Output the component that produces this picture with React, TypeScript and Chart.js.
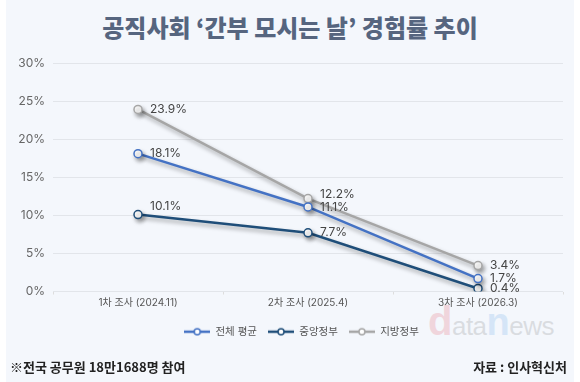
import React, { useEffect, useRef } from "react";
import { Chart, registerables } from "chart.js";

Chart.register(...registerables);

const categories = ["1차 조사 (2024.11)", "2차 조사 (2025.4)", "3차 조사 (2026.3)"];
const seriesNames = ["전체 평균", "중앙정부", "지방정부"];
const totalAvg = [18.1, 11.1, 1.7];
const central = [10.1, 7.7, 0.4];
const local = [23.9, 12.2, 3.4];
const yTicks = [0, 5, 10, 15, 20, 25, 30];

const colors = ["#4472c4", "#1f4e79", "#a6a6a6"];
// vertical nudges for value labels (px), per series per category
const labelNudge = [
  [0, 0, 0],
  [-8, 0, 0],
  [0, -4, 0],
];

const FONT = "Inter, 'Noto Sans CJK KR', sans-serif";

function legendIcon(color: string) {
  const c = document.createElement("canvas");
  c.width = 26;
  c.height = 10;
  const ctx = c.getContext("2d")!;
  ctx.strokeStyle = color;
  ctx.lineWidth = 2.5;
  ctx.beginPath();
  ctx.moveTo(0, 5);
  ctx.lineTo(26, 5);
  ctx.stroke();
  ctx.beginPath();
  ctx.arc(13, 5, 3, 0, Math.PI * 2);
  ctx.fillStyle = "#ffffff";
  ctx.fill();
  ctx.lineWidth = 1.5;
  ctx.stroke();
  return c;
}

export default function App() {
  const ref = useRef<HTMLCanvasElement>(null);

  useEffect(() => {
    const icons = colors.map(legendIcon);
    const shadowPlugin = {
      id: "lineShadow",
      beforeDatasetsDraw(chart: any) {
        const ctx = chart.ctx;
        ctx.save();
        ctx.shadowColor = "rgba(0,0,0,0.35)";
        ctx.shadowBlur = 4;
        ctx.shadowOffsetX = 2;
        ctx.shadowOffsetY = 3;
      },
      afterDatasetsDraw(chart: any) {
        chart.ctx.restore();
      },
    };
    const legendShift = {
      id: "legendShift",
      afterLayout(chart: any) {
        if (chart.legend) {
          chart.legend.left += 20;
          chart.legend.right += 20;
        }
      },
    };
    const labelPlugin = {
      id: "valueLabels",
      afterDraw(chart: any) {
        const ctx = chart.ctx;
        ctx.save();
        ctx.font = `12px ${FONT}`;
        ctx.fillStyle = "#444444";
        ctx.textAlign = "left";
        ctx.textBaseline = "middle";
        chart.data.datasets.forEach((ds: any, di: number) => {
          const meta = chart.getDatasetMeta(di);
          meta.data.forEach((pt: any, i: number) => {
            const v = ds.data[i];
            ctx.fillText(v.toFixed(1) + "%", pt.x + 12, pt.y + labelNudge[di][i]);
          });
        });
        ctx.restore();
      },
    };

    const mk = (label: string, data: number[], color: string) => ({
      label,
      data,
      borderColor: color,
      backgroundColor: "#ffffff",
      borderWidth: 2.5,
      pointRadius: 4,
      pointBorderWidth: 1.5,
      pointBackgroundColor: "#ffffff",
      pointBorderColor: color,
      tension: 0,
    });

    const chart = new Chart(ref.current!, {
      type: "line",
      data: {
        labels: categories,
        datasets: [
          mk(seriesNames[0], totalAvg, colors[0]),
          mk(seriesNames[1], central, colors[1]),
          mk(seriesNames[2], local, colors[2]),
        ],
      },
      options: {
        animation: false,
        responsive: false,
        maintainAspectRatio: false,
        layout: { padding: { top: 63, right: 17, left: 0, bottom: 35 } },
        plugins: {
          title: { display: false },
          tooltip: { enabled: false },
          legend: {
            position: "bottom",
            labels: {
              usePointStyle: true,
              pointStyleWidth: 26,
              boxHeight: 10,
              padding: 11,
              color: "#555555",
              font: { size: 10.5, family: FONT },
              generateLabels(chart: any) {
                const items = Chart.defaults.plugins.legend.labels.generateLabels(chart);
                items.forEach((it: any, i: number) => {
                  it.pointStyle = icons[i];
                });
                return items;
              },
            },
          },
        },
        scales: {
          x: {
            offset: true,
            grid: {
              offset: true,
              drawOnChartArea: false,
              drawTicks: true,
              tickLength: 3,
              color: "#dddddd",
            },
            border: { display: false },
            ticks: {
              color: "#555555",
              padding: 2,
              font: { size: 10, family: FONT },
            },
            afterFit(scale: any) {
              scale.height = 24;
            },
          },
          y: {
            min: 0,
            max: 30,
            afterBuildTicks(scale: any) {
              scale.ticks = yTicks.map((v) => ({ value: v }));
            },
            grid: { color: "#e2e5ea", drawTicks: false, lineWidth: 1 },
            border: { display: false },
            ticks: {
              color: "#666666",
              padding: 8,
              font: { size: 12, family: FONT },
              callback: (v: any) => v + "%",
            },
            afterFit(scale: any) {
              scale.width = 53;
            },
          },
        },
      },
      plugins: [shadowPlugin, labelPlugin, legendShift],
    });
    return () => chart.destroy();
  }, []);

  return (
    <div
      style={{
        position: "absolute",
        left: 0,
        top: 0,
        width: 580,
        height: 382,
        background: "#ffffff",
        overflow: "hidden",
        fontFamily: FONT,
      }}
    >
      <div
        style={{
          position: "absolute",
          left: 6,
          top: 0,
          width: 568,
          height: 382,
          background: "#f4f7fc",
        }}
      />
      <div
        style={{
          position: "absolute",
          left: 0,
          top: 10,
          width: 580,
          textAlign: "center",
          fontSize: 24,
          fontWeight: 800,
          color: "#56657f",
          fontFamily: "'Noto Sans CJK KR', sans-serif",
          lineHeight: "34px",
        }}
      >
        공직사회 ‘간부 모시는 날’ 경험률 추이
      </div>
      <div
        style={{
          position: "absolute",
          left: 428,
          top: 299,
          fontFamily: "'Liberation Sans', Arial, sans-serif",
          whiteSpace: "nowrap",
          lineHeight: "44px",
          opacity: 0.16,
          letterSpacing: -0.5,
        }}
      >
        <span style={{ fontSize: 40, fontWeight: 700, color: "#e0293a" }}>d</span>
        <span style={{ fontSize: 26, color: "#555555" }}>ata</span>
        <span style={{ fontSize: 38, fontWeight: 700, color: "#3a8fe0" }}>n</span>
        <span style={{ fontSize: 26, color: "#555555" }}>ews</span>
      </div>
      <canvas
        ref={ref}
        width={580}
        height={382}
        style={{ position: "absolute", left: 0, top: 0, width: 580, height: 382 }}
      />
      <div
        style={{
          position: "absolute",
          left: 10,
          top: 357,
          fontSize: 13,
          fontWeight: 700,
          color: "#222222",
          fontFamily: "'Noto Sans CJK KR', sans-serif",
          lineHeight: "20px",
        }}
      >
        ※전국 공무원 18만1688명 참여
      </div>
      <div
        style={{
          position: "absolute",
          right: 13,
          top: 357,
          fontSize: 13,
          fontWeight: 700,
          color: "#222222",
          fontFamily: "'Noto Sans CJK KR', sans-serif",
          lineHeight: "20px",
        }}
      >
        자료 : 인사혁신처
      </div>
    </div>
  );
}
